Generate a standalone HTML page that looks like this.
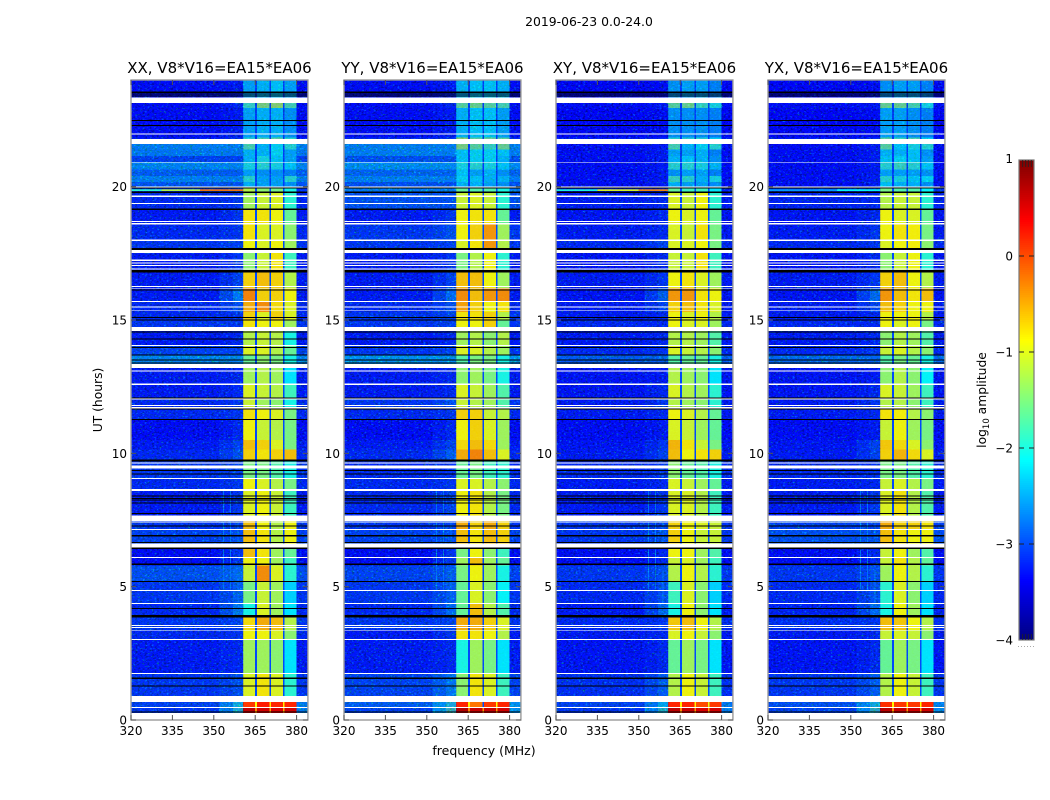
<!DOCTYPE html>
<html>
<head>
<meta charset="utf-8">
<title>2019-06-23 0.0-24.0</title>
<style>
html,body{margin:0;padding:0;background:#fff;}
svg{display:block;}
text{font-family:"DejaVu Sans","Liberation Sans",sans-serif;fill:#000;}
</style>
</head>
<body>
<svg id="chart" xmlns="http://www.w3.org/2000/svg" width="1050" height="800" viewBox="0 0 1050 800">
  <defs>
    <filter id="speckle" x="0" y="0" width="100%" height="100%" color-interpolation-filters="sRGB">
      <feTurbulence type="fractalNoise" baseFrequency="0.42 0.62" numOctaves="2" seed="7"/>
      <feColorMatrix type="matrix" values="0 0 0 0 0  4 0 0 0 -2.3  0 4 0 0 -1.05  0 0 0 0 0.38"/>
    </filter>
  </defs>
  <text x="589" y="26" font-size="12.4" text-anchor="middle">2019-06-23 0.0-24.0</text>
  <text x="484" y="755" font-size="12.5" text-anchor="middle">frequency (MHz)</text>
  <text x="0" y="0" font-size="12.3" text-anchor="middle" transform="translate(102,400) rotate(-90)">UT (hours)</text>
  <text x="0" y="0" font-size="12.3" text-anchor="middle" transform="translate(986,400) rotate(-90)">log<tspan font-size="8.5" dy="3">10</tspan><tspan dy="-3"> amplitude</tspan></text>
  <g id="panels"></g>
  <g id="colorbar"></g>
</svg>
<script>
const panelTitles = ["XX, V8*V16=EA15*EA06","YY, V8*V16=EA15*EA06","XY, V8*V16=EA15*EA06","YX, V8*V16=EA15*EA06"];
const xTickLabels = [320,335,350,365,380];
const yTickLabels = [0,5,10,15,20];
const colorbarTicks = [1,0,-1,-2,-3,-4];

// start hour of each time block (descending); final value closes the last block
const timeBlockStarts = [24,23.14,22.95,21.85,21.6,21.4,21.15,20.9,20.65,20.4,20.17,19.95,19.76,19.16,18.6,18,17.63,16.78,16.2,15.7,15.3,15,14.59,14.07,13.69,13.35,12.6,12.05,11.67,11.27,10.5,10.15,9.73,9.05,8.62,7.5,7.15,6.6,6.1,5.8,5.2,4.35,3.85,3.35,3,1.75,0.68,0.47,0.26];

// log10 amplitude: [background, edge, band1, band2, band3, band4]
const xxLevels = [
[-3.3,-3.2,-2.4,-2.3,-2.2,-2.4],[-3.3,-3.1,-1.8,-1.4,-1.3,-1.7],[-3.3,-3.2,-2.4,-2.3,-2.3,-2.5],[-3.2,-3,-1.9,-1.7,-1.6,-1.9],
[-2.45,-2.45,-1.7,-2.3,-2.1,-1.9],[-2.5,-2.5,-2.3,-2.3,-2.1,-2.4],[-2.9,-2.9,-2.3,-2,-2.2,-2.4],[-2.4,-2.4,-2,-1.9,-2,-2.2],
[-2.7,-2.7,-2.4,-2.5,-2.5,-2.6],[-2.45,-2.45,-1.9,-2.4,-2.4,-1.9],[-2.75,-2.75,-2.3,-2.4,-2.4,-2.5],[-3,-2.9,-1.2,-1.4,-1.5,-2],
[-3.1,-3,-1.3,-1.1,-1,-1.9],[-3.2,-3,-0.8,-0.8,-0.9,-1.6],[-3.1,-3,-0.8,-1,-1,-1.4],[-3,-2.9,-0.9,-1,-0.9,-1.3],
[-3.2,-3,-1.4,-1.1,-0.8,-1.8],[-3.2,-2.9,-0.7,-0.6,-0.7,-1.2],[-3.2,-2.5,-0.3,-0.7,-0.7,-0.9],[-3.1,-2.8,-0.5,-0.35,-0.75,-1],
[-3.1,-3,-0.7,-1,-0.7,-1],[-3,-3,-0.8,-0.9,-0.9,-1.3],[-3.2,-3.1,-1.2,-1.1,-1.2,-2],[-2.9,-2.9,-1,-1,-1.2,-1.6],
[-2.4,-2.35,-1.6,-1.4,-1.5,-2],[-3.2,-3.1,-1.3,-1.2,-1.3,-2.2],[-3.2,-3.1,-1,-1.1,-1.2,-1.8],[-3.1,-3,-1.1,-1.3,-1.4,-2],
[-3.1,-3,-0.8,-0.9,-1,-1.5],[-3.3,-3.1,-0.9,-1.1,-1.2,-1.5],[-3.2,-2.9,-0.6,-0.7,-1,-1.5],[-3.1,-2.8,-0.7,-0.8,-0.7,-0.6],
[-3,-2.9,-1.5,-1.5,-1.7,-2],[-3.1,-3,-0.9,-1,-1.2,-1.5],[-3.2,-3,-1,-0.9,-1.1,-1.8],[-3,-2.9,-0.6,-0.9,-1.2,-0.9],
[-2.9,-2.8,-0.6,-0.8,-1.2,-0.9],[-3.3,-3,-0.6,-0.8,-1.3,-1.6],[-3.3,-3,-0.9,-0.9,-1.3,-1.8],[-2.8,-2.6,-1.1,-0.35,-1,-1.9],
[-3,-2.7,-1.5,-1.1,-1.3,-2.3],[-3.1,-2.5,-2,-1,-1.3,-2.2],[-3,-2.9,-0.75,-0.5,-0.6,-1.2],[-3.1,-3,-0.9,-0.9,-1,-1.4],
[-3.2,-3.1,-1.3,-1.3,-1.4,-2.2],[-3,-2.8,-1,-0.8,-1,-1.9],[-2.9,-2,0.1,0.25,0.2,0.2],[-3,-1.9,0.7,0.6,0.55,0.6]];

const yyLevels = [
[-3.3,-3.2,-2.3,-2.2,-2.2,-2.3],[-3.3,-3.1,-1.6,-1.5,-1.6,-1.7],[-3.3,-3.2,-2.3,-2.2,-2.2,-2.4],[-3.1,-3,-1.3,-1.6,-1.5,-1.6],
[-2.45,-2.45,-1.4,-1.6,-1.8,-1.5],[-2.45,-2.45,-2.2,-2.1,-2.1,-2.2],[-2.8,-2.8,-2.2,-2.1,-2.1,-2.3],[-2.35,-2.35,-2,-1.9,-2,-2.2],
[-2.65,-2.65,-2.2,-2.4,-2.3,-2.5],[-2.45,-2.45,-2.1,-2.2,-2.3,-2.3],[-2.8,-2.8,-2.3,-2.3,-2.4,-2.5],[-2.5,-2.5,-1.6,-1.7,-1.7,-2],
[-2.8,-2.8,-1.1,-1,-1.1,-1.9],[-3.2,-3,-0.9,-0.8,-0.8,-1.6],[-3,-2.8,-0.9,-0.7,-0.4,-1.3],[-3,-2.9,-1,-0.8,-0.4,-1.2],
[-3.2,-3,-1.5,-1.2,-0.9,-1.9],[-3.2,-2.9,-0.6,-0.6,-0.9,-1.3],[-3.2,-2.6,-0.35,-0.6,-0.4,-0.35],[-3.1,-2.8,-0.45,-0.7,-0.9,-0.8],
[-3,-2.9,-0.8,-0.8,-0.7,-1.2],[-3,-2.9,-0.9,-0.9,-0.7,-1.6],[-3.2,-3.1,-1.3,-1.2,-1.4,-1.2],[-3,-2.9,-1,-1,-1.2,-1.3],
[-2.3,-2.3,-1.7,-1.5,-1.5,-2],[-3.2,-3.1,-1.4,-1.3,-1.5,-2],[-3.2,-3.1,-1,-1.1,-1.3,-1.7],[-3,-2.8,-1.1,-1.2,-1.3,-1.7],
[-3.1,-3,-0.7,-0.7,-1.1,-1.2],[-3.3,-3.1,-0.9,-0.7,-1,-1.3],[-3.2,-2.9,-0.75,-0.6,-0.75,-1.3],[-3.1,-2.7,-0.5,-0.3,-0.6,-1],
[-3.1,-3,-1.6,-1.5,-1.8,-1.9],[-3.1,-3,-1,-1,-1.2,-1.4],[-3.1,-2.9,-0.9,-0.8,-1.2,-1.5],[-3,-2.9,-0.5,-0.7,-0.5,-0.7],
[-2.9,-2.8,-0.6,-0.8,-0.6,-0.7],[-3.3,-3,-1.5,-0.9,-1.4,-1.8],[-3.3,-3,-1.3,-0.6,-1.3,-1.6],[-2.9,-2.7,-1.5,-0.9,-1.3,-2],
[-3,-2.7,-1.6,-1,-1.4,-2.1],[-3.1,-2.6,-1.6,-0.6,-1.2,-1.7],[-3,-2.9,-0.5,-0.5,-0.7,-1],[-3.2,-3,-0.8,-0.8,-0.9,-1.2],
[-3.2,-3.1,-2,-1.3,-1.5,-2.2],[-2.9,-2.5,-1.4,-0.8,-1,-1.8],[-2.7,-1.9,0.2,-0.2,0.1,0.2],[-2.9,-1.7,0.75,0.65,0.65,0.6]];

const xyLevels = [
[-3.35,-3.3,-2.5,-2.4,-2.4,-2.6],[-3.3,-3.2,-1.6,-1.5,-1.8,-2],[-3.35,-3.3,-2.5,-2.5,-2.5,-2.6],[-3.2,-3.1,-1.9,-1.9,-1.9,-2.1],
[-3.3,-3.2,-1.7,-2.3,-2.1,-1.9],[-3.3,-3.2,-2.4,-2.4,-2.3,-2.6],[-3.3,-3.2,-2.3,-2.2,-2.3,-2.5],[-3.3,-3.2,-1.9,-1.9,-2,-2.3],
[-3.3,-3.2,-2.5,-2.4,-2.4,-2.6],[-3.3,-3.2,-1.8,-1.9,-2.3,-2],[-3.3,-3.2,-2.3,-2.4,-2.4,-2.5],[-3.2,-3.1,-1.6,-1.8,-1.8,-2.2],
[-3.2,-3.1,-1,-1.1,-0.9,-1.9],[-3.25,-3.1,-0.9,-1,-0.9,-1.6],[-3.2,-3.1,-1,-1.1,-0.8,-1.5],[-3.1,-2.9,-1,-1,-0.9,-1.5],
[-3.25,-3.1,-1.1,-1.1,-0.8,-1.8],[-3.2,-3,-0.9,-0.8,-1,-1.3],[-3.25,-2.7,-0.4,-0.4,-0.8,-0.9],[-3.2,-2.9,-0.7,-0.6,-0.8,-1],
[-3.2,-3.1,-0.9,-1,-0.9,-1.2],[-3.1,-3.1,-0.9,-1,-1,-1.3],[-3.2,-3.1,-1.2,-1.2,-1.3,-1.7],[-3.1,-3,-1,-1.1,-1.2,-1.4],
[-2.7,-2.65,-1.7,-1.6,-1.6,-2],[-3.25,-3.2,-1.2,-1.3,-1.4,-2.2],[-3.25,-3.1,-1,-1.2,-1.3,-1.9],[-3.2,-3,-1.2,-1.3,-1.4,-1.9],
[-3.2,-3.1,-0.9,-1,-1.2,-1.6],[-3.3,-3.2,-1,-1.1,-1.3,-1.6],[-3.25,-3,-0.55,-0.8,-1.1,-1.5],[-3.2,-2.9,-0.6,-0.9,-0.8,-0.7],
[-3.1,-3,-1.4,-1.6,-1.7,-2],[-3.2,-3.1,-1,-1.1,-1.3,-1.6],[-3.2,-3,-1,-1,-1.2,-1.8],[-3,-2.9,-0.7,-0.9,-1,-1.1],
[-3,-2.8,-0.7,-0.9,-1.1,-1.1],[-3.3,-3.1,-0.9,-0.9,-1.3,-1.7],[-3.3,-3.1,-1.1,-1,-1.3,-1.8],[-3,-2.8,-1.2,-0.9,-1.2,-1.9],
[-3.1,-2.8,-1.8,-1,-1.4,-2.3],[-3.2,-2.6,-2,-0.9,-1.4,-2.2],[-3.1,-3,-0.65,-0.6,-0.9,-1.2],[-3.2,-3.1,-1,-0.9,-1.1,-1.4],
[-3.25,-3.1,-1.6,-1.3,-1.5,-2.2],[-3.05,-2.7,-1.2,-0.9,-1.1,-1.8],[-2.9,-2.1,0.2,0.2,0,0.1],[-3,-1.9,0.7,0.65,0.55,0.6]];

const yxLevels = [
[-3.35,-3.3,-2.5,-2.4,-2.4,-2.6],[-3.3,-3.2,-1.5,-1.5,-1.7,-2],[-3.35,-3.3,-2.4,-2.4,-2.5,-2.6],[-3.2,-3.1,-1.6,-1.8,-1.7,-2.1],
[-3.3,-3.2,-1.6,-2.2,-2,-1.9],[-3.3,-3.2,-2.3,-2.3,-2.2,-2.5],[-3.3,-3.2,-2.2,-2.1,-2.2,-2.4],[-3.3,-3.2,-1.9,-1.8,-1.9,-2.2],
[-3.3,-3.2,-2.4,-2.4,-2.4,-2.5],[-3.3,-3.2,-1.9,-2,-2.2,-2.1],[-3.3,-3.2,-2.2,-2.3,-2.3,-2.5],[-3,-2.9,-1.5,-1.7,-1.7,-2.1],
[-3.15,-3.1,-1.2,-1.1,-1.1,-1.9],[-3.25,-3.1,-0.9,-1,-1,-1.6],[-3.2,-3,-0.9,-0.8,-0.85,-1.5],[-3.1,-3,-1,-0.9,-0.85,-1.4],
[-3.25,-3.1,-1.4,-1.1,-0.9,-1.9],[-3.2,-3,-0.7,-0.6,-0.9,-1.2],[-3.25,-2.6,-0.4,-0.6,-0.8,-0.6],[-3.2,-2.9,-0.6,-0.7,-0.9,-0.9],
[-3.2,-3.1,-0.9,-0.9,-0.9,-1.2],[-3.1,-3.1,-0.9,-1,-0.9,-1.5],[-3.2,-3.1,-1.4,-1.2,-1.3,-1.7],[-3.1,-3,-1.1,-1,-1.2,-1.4],
[-2.6,-2.6,-1.7,-1.5,-1.6,-2],[-3.25,-3.2,-1.4,-1.2,-1.4,-2.1],[-3.25,-3.1,-1,-1.1,-1.3,-1.8],[-3.2,-3,-1.2,-1.2,-1.4,-1.8],
[-3.2,-3.1,-0.8,-0.85,-1.2,-1.4],[-3.3,-3.2,-1.1,-0.9,-1.3,-1.5],[-3.25,-2.9,-0.65,-0.75,-1,-1.4],[-3.2,-2.9,-0.7,-0.55,-0.75,-1],
[-3.1,-3,-1.5,-1.5,-1.7,-1.9],[-3.2,-3.1,-1.1,-1,-1.2,-1.5],[-3.2,-3,-1,-0.8,-1.2,-1.7],[-2.9,-2.9,-0.5,-0.7,-0.7,-0.8],
[-2.8,-2.8,-0.6,-0.8,-0.9,-0.9],[-3.3,-3.1,-1.1,-0.9,-1.3,-1.7],[-3.3,-3.1,-1.1,-0.8,-1.2,-1.6],[-3,-2.8,-1.3,-0.9,-1.2,-1.9],
[-3.1,-2.8,-1.9,-1,-1.4,-2.3],[-3.15,-2.6,-2,-0.9,-1.3,-2.2],[-3.05,-3,-0.6,-0.65,-0.9,-1.2],[-3.2,-3.1,-1.1,-1,-1.1,-1.4],
[-3.25,-3.1,-1.6,-1.3,-1.5,-2.2],[-3,-2.7,-1.2,-0.9,-1.1,-1.8],[-2.8,-2,0.15,0.1,0.1,0.2],[-2.9,-1.8,0.7,0.65,0.6,0.6]];

// flagged time ranges in hours: [top, bottom]
const whiteBands = [[23.34,23.14],[22,21.96],[21.79,21.6],[20.93,20.9],[20.01,19.97],[19.66,19.62],[19.38,19.35],[18.71,18.68],[18.63,18.59],[18.01,17.97],[17.63,17.51],[17.26,17.22],[17.16,17.12],[17.06,17.02],[16.93,16.89],[16.27,16.23],[16.19,16.16],[15.72,15.68],[15.5,15.46],[15.38,15.35],[14.74,14.59],[14.07,14.03],[13.35,13.2],[13.11,13.07],[12.61,12.57],[12.05,12.01],[11.82,11.78],[11.73,11.69],[9.66,9.62],[9.54,9.43],[9.08,9.04],[8.66,8.59],[7.66,7.47],[7.45,7.41],[7.16,7.13],[6.61,6.45],[6.12,6.08],[4.88,4.84],[4.39,4.35],[3.56,3.52],[3.49,3.45],[3.38,3.35],[3.04,3],[1.76,1.73],[0.9,0.68],[0.49,0.45],[0.26,0]];
const blackBands = [[23.56,23.52],[23.49,23.45],[23.42,23.38],[22.5,22.46],[22.31,22.27],[19.97,19.93],[19.82,19.76],[19.18,19.12],[17.7,17.63],[16.88,16.78],[16.15,16.11],[15.11,15.07],[15.02,14.98],[14.57,14.53],[14.31,14.27],[13.99,13.95],[13.71,13.67],[13.52,13.48],[13.41,13.37],[12.1,12.06],[11.69,11.65],[11.29,11.25],[9.76,9.69],[9.37,9.33],[9.25,9.21],[8.42,8.38],[8.33,8.29],[8.27,8.23],[8.15,8.11],[7.77,7.73],[7.3,7.26],[6.93,6.89],[6.68,6.64],[6.46,6.41],[5.87,5.81],[5.21,5.17],[4.2,4.16],[3.94,3.84],[1.59,1.54],[1.3,1.26],[0.32,0.28]];

// bright single-row interference on 19.87 h: [panel, startMHz, endMHz, level]
const streakSegments = [[0,320,331,-1.9],[0,331,345,-1.2],[0,345,360.6,-0.2],[2,320,335,-2],[2,335,350,-1],[2,350,360.6,-0.3],[3,320,345,-2.6],[3,345,360.6,-2.1]];
// narrow vertical spurs: [MHz, topHour, bottomHour, level]
const spurLines = [[353.3,8.6,7.7,-2.5],[355.9,8.6,7.7,-2.5],[353.3,7.4,6.66,-2.4],[355.9,7.4,6.66,-2.4],[358.5,7.4,6.66,-2.5],[353.3,6.4,4.9,-2.5],[355.9,6.4,4.9,-2.5],[358.5,5.6,4.4,-2.5]];

const panelLevels = [xxLevels,yyLevels,xyLevels,yxLevels];
const NS = "http://www.w3.org/2000/svg";
const panelLefts = [131,344,556,768];
const panelRightMHz = 384.1;
function xScale(p,mhz){return panelLefts[p]+(mhz-320)*2.76;}
function yScale(h){return 720-h*(640/24);}
function cbScale(v){return 640-(v+4)*96;}
function clamp01(a){return Math.max(0,Math.min(1,a));}
function jet(v){
  const t=(v+4)/5;
  const r=clamp01(Math.min(4*t-1.5,-4*t+4.5));
  const g=clamp01(Math.min(4*t-0.5,-4*t+3.5));
  const b=clamp01(Math.min(4*t+0.5,-4*t+2.5));
  return "rgb("+Math.round(r*255)+","+Math.round(g*255)+","+Math.round(b*255)+")";
}
function makeRect(parent,x,y,w,h,fill){
  const el=document.createElementNS(NS,"rect");
  el.setAttribute("x",x);
  el.setAttribute("y",y);
  el.setAttribute("width",w);
  el.setAttribute("height",h);
  el.setAttribute("fill",fill);
  parent.appendChild(el);
  return el;
}
function makeLine(parent,x1,y1,x2,y2,color,width){
  const el=document.createElementNS(NS,"line");
  el.setAttribute("x1",x1);
  el.setAttribute("y1",y1);
  el.setAttribute("x2",x2);
  el.setAttribute("y2",y2);
  el.setAttribute("stroke",color);
  el.setAttribute("stroke-width",width);
  parent.appendChild(el);
  return el;
}
function makeText(parent,x,y,str,size,anchor){
  const el=document.createElementNS(NS,"text");
  el.setAttribute("x",x);
  el.setAttribute("y",y);
  el.setAttribute("font-size",size);
  el.setAttribute("text-anchor",anchor);
  el.textContent=str;
  parent.appendChild(el);
  return el;
}
function columnsFor(levels){
  const bg=levels[0],edge=levels[1];
  const gap=function(b){return b<0?-3:b-1;};
  const right=edge>-2.2?(edge+bg)/2:bg;
  return [[320,352,bg],[352,357,(bg+edge)/2],[357,360.6,edge],
          [360.6,365,levels[2]],[365,365.6,gap(levels[2])],
          [365.6,370.2,levels[3]],[370.2,370.7,gap(levels[3])],
          [370.7,375,levels[4]],[375,375.6,gap(levels[4])],
          [375.6,380,levels[5]],[380,panelRightMHz,right]];
}
const panelsGroup=document.getElementById("panels");
panelTitles.forEach(function(title,p){
  const g=document.createElementNS(NS,"g");
  
  
  panelsGroup.appendChild(g);
  const cells=document.createElementNS(NS,"g");
  
  
  cells.setAttribute("shape-rendering","crispEdges");
  g.appendChild(cells);
  const left=xScale(p,320), right=xScale(p,panelRightMHz), width=right-left;
  makeRect(cells,left,80,width,640,"#fff");
  panelLevels[p].forEach(function(levels,i){
    const top=timeBlockStarts[i], bottom=timeBlockStarts[i+1];
    columnsFor(levels).forEach(function(col){
      const cell=makeRect(cells,xScale(p,col[0]),yScale(top),xScale(p,col[1])-xScale(p,col[0]),yScale(bottom)-yScale(top),jet(col[2]));
      
      
    });
  });
  spurLines.forEach(function(s){
    const spur=makeRect(cells,xScale(p,s[0]),yScale(s[1]),1,yScale(s[2])-yScale(s[1]),jet(s[3]));
    
    
  });
  const bandLeft=xScale(p,360.6), bandRight=xScale(p,380);
  const n1=makeRect(g,left,80,bandLeft-left,640,"#000");
  n1.setAttribute("filter","url(#speckle)");
  
  
  const n2=makeRect(g,bandRight,80,right-bandRight,640,"#000");
  n2.setAttribute("filter","url(#speckle)");
  
  
  const n3=makeRect(g,bandLeft,yScale(24),bandRight-bandLeft,yScale(20)-yScale(24),"#000");
  n3.setAttribute("filter","url(#speckle)");
  n3.setAttribute("opacity","0.6");
  
  
  const n4=makeRect(g,bandLeft,yScale(20),bandRight-bandLeft,yScale(0.68)-yScale(20),"#000");
  n4.setAttribute("filter","url(#speckle)");
  n4.setAttribute("opacity","0.14");
  
  
  streakSegments.forEach(function(s){
    if(s[0]!==p)return;
    const st=makeRect(g,xScale(p,s[1]),yScale(19.9),xScale(p,s[2])-xScale(p,s[1]),yScale(19.84)-yScale(19.9),jet(s[3]));
    
    
  });
  const flags=document.createElementNS(NS,"g");
  
  
  flags.setAttribute("shape-rendering","crispEdges");
  g.appendChild(flags);
  whiteBands.forEach(function(b){
    const r=makeRect(flags,left,yScale(b[0]),width,yScale(b[1])-yScale(b[0]),"#fff");
    
    
  });
  blackBands.forEach(function(b){
    const r=makeRect(flags,left,yScale(b[0]),width,yScale(b[1])-yScale(b[0]),"#000");
    
    
  });
  const frame=makeRect(g,left,80,width,640,"none");
  frame.setAttribute("stroke","#9a9a9a");
  frame.setAttribute("stroke-width","1.4");
  
  
  xTickLabels.forEach(function(v){
    const x=xScale(p,v);
    const t1=makeLine(g,x,720,x,715,"#555","1");
    
    
    const t2=makeLine(g,x,80,x,85,"#555","1");
    
    
    const lab=makeText(g,x,735,String(v),12,"middle");
    
    
  });
  yTickLabels.forEach(function(v){
    const y=yScale(v);
    const t1=makeLine(g,left,y,left+5,y,"#555","1");
    
    
    const t2=makeLine(g,right,y,right-5,y,"#555","1");
    
    
    const lab=makeText(g,left-4,y+4.5,String(v),12,"end");
    
    
  });
  const ttl=makeText(g,left+width/2,73,title,15,"middle");
  
  
});

// colorbar
const cb=document.getElementById("colorbar");
const cbLeft=1019, cbWidth=15;
const cbLevelsTop=1, cbLevelsBottom=-4, cbStep=0.02;
const cbG=document.createElementNS(NS,"g");


cbG.setAttribute("shape-rendering","crispEdges");
cb.appendChild(cbG);
for(let v=cbLevelsBottom;v<cbLevelsTop-1e-9;v+=cbStep){
  makeRect(cbG,cbLeft,cbScale(v+cbStep),cbWidth,cbScale(v)-cbScale(v+cbStep)+0.5,jet(v+cbStep/2));
}
const cbFrame=makeRect(cb,cbLeft,160,cbWidth,480,"none");
cbFrame.setAttribute("stroke","#777");
cbFrame.setAttribute("stroke-width","1.2");


colorbarTicks.forEach(function(v){
  const y=cbScale(v);
  const isEnd=(v===1||v===-4);
  if(!isEnd){
    const a=makeLine(cb,cbLeft,y,cbLeft+5,y,"#222","1");
    
    
    const b=makeLine(cb,cbLeft+10,y,cbLeft+15,y,"#222","1");
    
    
  }
  const lab=makeText(cb,1013,y+(v===1?3:4.5),String(v).replace("-","\u2212"),12,"end");
  
  
});
[3.7,6.7,9.3,12.3].forEach(function(dx){
  const a=makeLine(cb,cbLeft+dx,160,cbLeft+dx,167,"#222","0.8");
  
  
  const b=makeLine(cb,cbLeft+dx,640,cbLeft+dx,634,"#222","0.8");
  
  
});
[0,3,6,9,12,15].forEach(function(dx){
  const d=makeRect(cb,1018+dx,646,1,1,"#aaa");
  
  
});
</script>
</body>
</html>
